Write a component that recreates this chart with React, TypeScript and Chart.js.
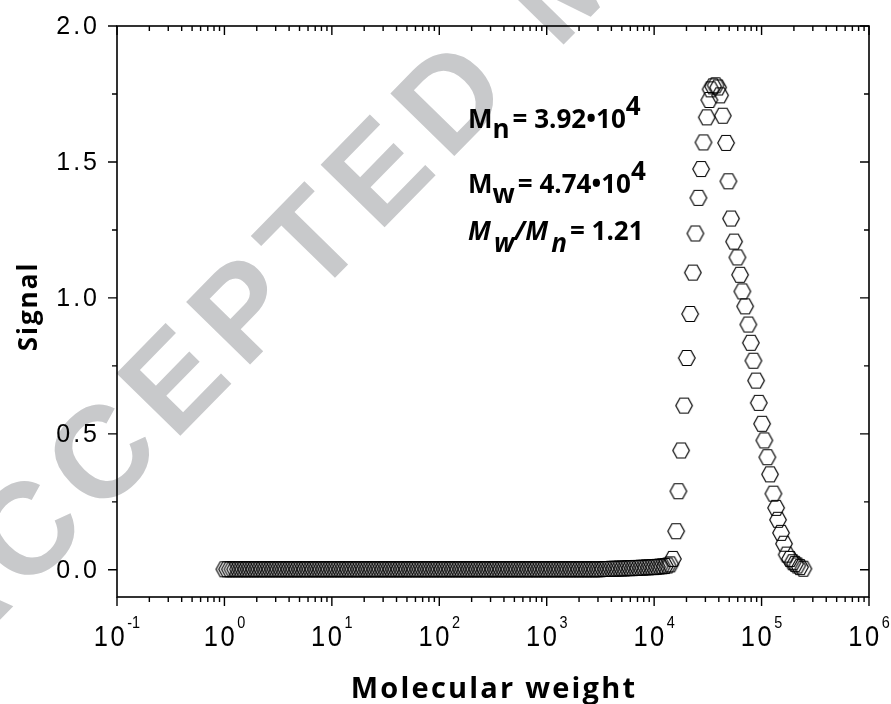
import React, { useEffect, useRef } from "react";
import { Chart, registerables } from "chart.js";

Chart.register(...registerables);

// ---- Data (log10 of molecular weight, detector signal) ----
const baselineLogM = [
  0.000, 0.025, 0.050, 0.075, 0.100, 0.125, 0.150, 0.175, 0.200, 0.225, 0.250, 0.275, 0.300, 0.325, 0.350, 0.375, 0.400, 0.425, 0.450, 0.475,
  0.500, 0.525, 0.550, 0.575, 0.600, 0.625, 0.650, 0.675, 0.700, 0.725, 0.750, 0.775, 0.800, 0.825, 0.850, 0.875, 0.900, 0.925, 0.950, 0.975,
  1.000, 1.025, 1.050, 1.075, 1.100, 1.125, 1.150, 1.175, 1.200, 1.225, 1.250, 1.275, 1.300, 1.325, 1.350, 1.375, 1.400, 1.425, 1.450, 1.475,
  1.500, 1.525, 1.550, 1.575, 1.600, 1.625, 1.650, 1.675, 1.700, 1.725, 1.750, 1.775, 1.800, 1.825, 1.850, 1.875, 1.900, 1.925, 1.950, 1.975,
  2.000, 2.025, 2.050, 2.075, 2.100, 2.125, 2.150, 2.175, 2.200, 2.225, 2.250, 2.275, 2.300, 2.325, 2.350, 2.375, 2.400, 2.425, 2.450, 2.475,
  2.500, 2.525, 2.550, 2.575, 2.600, 2.625, 2.650, 2.675, 2.700, 2.725, 2.750, 2.775, 2.800, 2.825, 2.850, 2.875, 2.900, 2.925, 2.950, 2.975,
  3.000, 3.025, 3.050, 3.075, 3.100, 3.125, 3.150, 3.175, 3.200, 3.225, 3.250, 3.275, 3.300, 3.325, 3.350, 3.375, 3.400, 3.425, 3.450, 3.475,
  3.500, 3.525, 3.550, 3.575, 3.600, 3.625, 3.650, 3.675, 3.700, 3.725, 3.750, 3.775, 3.800, 3.825, 3.850, 3.875, 3.900, 3.925, 3.950, 3.975,
  4.000, 4.025, 4.050, 4.075, 4.100, 4.125, 4.150,
];
const baselineSignal = [
  0.002, 0.002, 0.002, 0.002, 0.002, 0.002, 0.002, 0.002, 0.002, 0.002, 0.002, 0.002, 0.002, 0.002, 0.002, 0.002, 0.002, 0.002, 0.002, 0.002,
  0.002, 0.002, 0.002, 0.002, 0.002, 0.002, 0.002, 0.002, 0.002, 0.002, 0.002, 0.002, 0.002, 0.002, 0.002, 0.002, 0.002, 0.002, 0.002, 0.002,
  0.002, 0.002, 0.002, 0.002, 0.002, 0.002, 0.002, 0.002, 0.002, 0.002, 0.002, 0.002, 0.002, 0.002, 0.002, 0.002, 0.002, 0.002, 0.002, 0.002,
  0.002, 0.002, 0.002, 0.002, 0.002, 0.002, 0.002, 0.002, 0.002, 0.002, 0.002, 0.002, 0.002, 0.002, 0.002, 0.002, 0.002, 0.002, 0.002, 0.002,
  0.002, 0.002, 0.002, 0.002, 0.002, 0.002, 0.002, 0.002, 0.002, 0.002, 0.002, 0.002, 0.002, 0.002, 0.002, 0.002, 0.002, 0.002, 0.002, 0.002,
  0.002, 0.002, 0.002, 0.002, 0.002, 0.002, 0.002, 0.002, 0.002, 0.002, 0.002, 0.002, 0.002, 0.002, 0.002, 0.002, 0.002, 0.002, 0.002, 0.002,
  0.002, 0.002, 0.002, 0.002, 0.002, 0.002, 0.002, 0.002, 0.002, 0.002, 0.002, 0.002, 0.002, 0.002, 0.002, 0.002, 0.002, 0.002, 0.002, 0.002,
  0.002, 0.003, 0.003, 0.003, 0.004, 0.004, 0.004, 0.005, 0.005, 0.005, 0.006, 0.006, 0.006, 0.007, 0.007, 0.008, 0.008, 0.009, 0.009, 0.010,
  0.010, 0.011, 0.012, 0.013, 0.014, 0.016, 0.020,
];
const peakLogM = [
  4.174, 4.205, 4.226, 4.251, 4.279, 4.304, 4.335, 4.360, 4.384, 4.412, 4.437, 4.459, 4.490, 4.514,
  4.526, 4.549, 4.572, 4.595,
  4.614, 4.639, 4.670, 4.691, 4.716, 4.744, 4.775, 4.800, 4.821, 4.847, 4.877, 4.900, 4.924, 4.949, 4.974,
  5.005, 5.026, 5.054, 5.079, 5.110, 5.135, 5.153, 5.181, 5.209, 5.234, 5.265, 5.290, 5.312, 5.333, 5.358, 5.389,
];
const peakSignal = [
  0.040, 0.142, 0.289, 0.439, 0.604, 0.779, 0.941, 1.093, 1.237, 1.368, 1.474, 1.572, 1.664, 1.728,
  1.767, 1.778, 1.782, 1.774,
  1.745, 1.670, 1.570, 1.429, 1.292, 1.207, 1.149, 1.085, 1.024, 0.969, 0.902, 0.835, 0.769, 0.696, 0.614,
  0.537, 0.476, 0.414, 0.351, 0.280, 0.228, 0.184, 0.136, 0.096, 0.056, 0.040, 0.028, 0.022, 0.016, 0.010, 0.004,
];

// ---- Axis ticks ----
const xDecadeExponents = [-1, 0, 1, 2, 3, 4, 5, 6];
const xMinorMultipliers = [2, 3, 4, 5, 6, 7, 8, 9];
const yMajorTicks = [0, 0.5, 1.0, 1.5, 2.0];
const yMinorTicks = [0.25, 0.75, 1.25, 1.75];
const yTickLabels = ["0.0", "0.5", "1.0", "1.5", "2.0"];

const xTitle = "Molecular weight";
const yTitle = "Signal";
const watermarkText = "ACCEPTED MANUSCRIPT";

const ANNOT_FONT = "'Open Sans', 'Noto Sans', sans-serif";
const TICK_FONT = "'Liberation Sans', Arial, sans-serif";

function makeHexagon(): HTMLCanvasElement {
  const c = document.createElement("canvas");
  c.width = 20;
  c.height = 18;
  const ctx = c.getContext("2d")!;
  const cx = 10, cy = 9, rx = 8.3, ry = 7.5;
  ctx.beginPath();
  ctx.moveTo(cx - rx, cy);
  ctx.lineTo(cx - rx / 2, cy - ry);
  ctx.lineTo(cx + rx / 2, cy - ry);
  ctx.lineTo(cx + rx, cy);
  ctx.lineTo(cx + rx / 2, cy + ry);
  ctx.lineTo(cx - rx / 2, cy + ry);
  ctx.closePath();
  ctx.strokeStyle = "#000";
  ctx.lineWidth = 1.2;
  ctx.stroke();
  return c;
}

type Run = { t: string; font: string; dy?: number; gap?: number };

function drawRuns(ctx: CanvasRenderingContext2D, x: number, y: number, runs: Run[]) {
  ctx.textAlign = "left";
  ctx.textBaseline = "alphabetic";
  for (const r of runs) {
    ctx.font = r.font;
    ctx.fillText(r.t, x, y + (r.dy || 0));
    x += ctx.measureText(r.t).width + (r.gap || 0);
  }
}

const decorPlugin = {
  id: "decor",
  beforeDraw(chart: any) {
    const ctx: CanvasRenderingContext2D = chart.ctx;
    ctx.save();
    ctx.fillStyle = "rgb(200,201,203)";
    ctx.font = `bold 130px ${TICK_FONT}`;
    (ctx as any).letterSpacing = "13px";
    ctx.textAlign = "left";
    ctx.textBaseline = "alphabetic";
    ctx.translate(-50, 671);
    ctx.rotate((-45.6 * Math.PI) / 180);
    ctx.fillText(watermarkText, 0, 0);
    (ctx as any).letterSpacing = "0px";
    ctx.restore();
  },
  beforeDatasetsDraw(chart: any) {
    const ctx: CanvasRenderingContext2D = chart.ctx;
    const { left, right, top, bottom } = chart.chartArea;
    const xs = chart.scales.x;
    const ys = chart.scales.y;
    ctx.save();
    ctx.strokeStyle = "#000";
    ctx.lineWidth = 1.6;
    ctx.strokeRect(left, top, right - left, bottom - top);

    const majorLen = 9, minorLen = 5;
    ctx.lineWidth = 1.4;
    ctx.beginPath();
    for (const e of xDecadeExponents) {
      const px = xs.getPixelForValue(Math.pow(10, e));
      ctx.moveTo(px, bottom); ctx.lineTo(px, bottom + majorLen);
      ctx.moveTo(px, top); ctx.lineTo(px, top + majorLen);
      if (e < 6) {
        for (const m of xMinorMultipliers) {
          const pm = xs.getPixelForValue(m * Math.pow(10, e));
          ctx.moveTo(pm, bottom); ctx.lineTo(pm, bottom + minorLen);
          ctx.moveTo(pm, top); ctx.lineTo(pm, top + minorLen);
        }
      }
    }
    for (const v of yMajorTicks) {
      const py = ys.getPixelForValue(v);
      ctx.moveTo(left - majorLen, py); ctx.lineTo(left, py);
      ctx.moveTo(right - majorLen, py); ctx.lineTo(right, py);
    }
    for (const v of yMinorTicks) {
      const py = ys.getPixelForValue(v);
      ctx.moveTo(left - minorLen, py); ctx.lineTo(left, py);
      ctx.moveTo(right - minorLen, py); ctx.lineTo(right, py);
    }
    ctx.stroke();

    // y tick labels
    ctx.fillStyle = "#000";
    ctx.font = `25px ${TICK_FONT}`;
    (ctx as any).letterSpacing = "3px";
    ctx.textAlign = "right";
    ctx.textBaseline = "middle";
    yMajorTicks.forEach((v, i) => {
      ctx.fillText(yTickLabels[i], 100, ys.getPixelForValue(v) + 1);
    });
    (ctx as any).letterSpacing = "0px";

    // x tick labels: 10^e
    const sx = 0.85;
    for (const e of xDecadeExponents) {
      const px = xs.getPixelForValue(Math.pow(10, e));
      (ctx as any).letterSpacing = "3px";
      ctx.font = `30px ${TICK_FONT}`;
      const wBase = ctx.measureText("10").width * sx;
      (ctx as any).letterSpacing = "0px";
      ctx.font = `17px ${TICK_FONT}`;
      const expStr = String(e);
      const wExp = ctx.measureText(expStr).width * sx;
      const start = px - (wBase + wExp) / 2;
      ctx.textAlign = "left";
      ctx.textBaseline = "alphabetic";
      ctx.save();
      ctx.translate(start, 646);
      ctx.scale(sx, 1);
      (ctx as any).letterSpacing = "3px";
      ctx.font = `30px ${TICK_FONT}`;
      ctx.fillText("10", 0, 0);
      (ctx as any).letterSpacing = "0px";
      ctx.restore();
      ctx.save();
      ctx.translate(start + wBase, 628);
      ctx.scale(sx, 1);
      ctx.font = `17px ${TICK_FONT}`;
      ctx.fillText(expStr, 0, 0);
      ctx.restore();
    }

    // axis titles
    ctx.font = `bold 29px ${ANNOT_FONT}`;
    (ctx as any).letterSpacing = "2.2px";
    ctx.textAlign = "center";
    ctx.textBaseline = "alphabetic";
    ctx.fillText(xTitle, (left + right) / 2 + 1, 698);
    ctx.font = `bold 26px ${ANNOT_FONT}`;
    (ctx as any).letterSpacing = "2px";
    ctx.save();
    ctx.translate(37, (top + bottom) / 2 - 4);
    ctx.rotate(-Math.PI / 2);
    ctx.fillText(yTitle, 1, 0);
    ctx.restore();
    (ctx as any).letterSpacing = "0px";
    ctx.restore();
  },
  afterDraw(chart: any) {
    const ctx: CanvasRenderingContext2D = chart.ctx;
    ctx.save();
    ctx.fillStyle = "#000";
    const b = `bold 26px ${ANNOT_FONT}`;
    const bi = `italic bold 26px ${ANNOT_FONT}`;
    drawRuns(ctx, 468, 128, [
      { t: "M", font: b },
      { t: "n", font: b, dy: 10, gap: 3 },
      { t: "= 3.92\u202210", font: b },
      { t: "4", font: b, dy: -13 },
    ]);
    drawRuns(ctx, 468, 193, [
      { t: "M", font: b },
      { t: "w", font: b, dy: 10, gap: 3 },
      { t: "= 4.74\u202210", font: b },
      { t: "4", font: b, dy: -13 },
    ]);
    drawRuns(ctx, 468, 240, [
      { t: "M", font: bi, gap: 3 },
      { t: "w", font: bi, dy: 12 },
      { t: "/", font: bi },
      { t: "M", font: bi, gap: 3 },
      { t: "n", font: bi, dy: 12, gap: 3 },
      { t: "= 1.21", font: b },
    ]);
    ctx.restore();
  },
};

export default function App() {
  const canvasRef = useRef<HTMLCanvasElement | null>(null);

  useEffect(() => {
    document.body.style.margin = "0";
    const canvas = canvasRef.current;
    if (!canvas) return;
    const hex = makeHexagon();
    const points = [
      ...baselineLogM.map((l, i) => ({ x: Math.pow(10, l), y: baselineSignal[i] })),
      ...peakLogM.map((l, i) => ({ x: Math.pow(10, l), y: peakSignal[i] })),
    ];
    const chart = new Chart(canvas, {
      type: "scatter",
      data: {
        datasets: [
          {
            data: points,
            pointStyle: hex as any,
            pointRadius: 8,
            borderColor: "#000",
            backgroundColor: "transparent",
            showLine: false,
          },
        ],
      },
      options: {
        responsive: false,
        animation: false,
        devicePixelRatio: 1,
        events: [],
        layout: { padding: { left: 117, top: 26, right: 22, bottom: 107 } },
        plugins: { legend: { display: false }, tooltip: { enabled: false } },
        scales: {
          x: { type: "logarithmic", min: 0.1, max: 1e6, display: false },
          y: { type: "linear", min: -0.1, max: 2.0, display: false },
        },
      },
      plugins: [decorPlugin],
    });
    return () => chart.destroy();
  }, []);

  return (
    <div style={{ width: 891, height: 704, background: "#fff" }}>
      <canvas ref={canvasRef} width={891} height={704} style={{ display: "block" }} />
    </div>
  );
}
